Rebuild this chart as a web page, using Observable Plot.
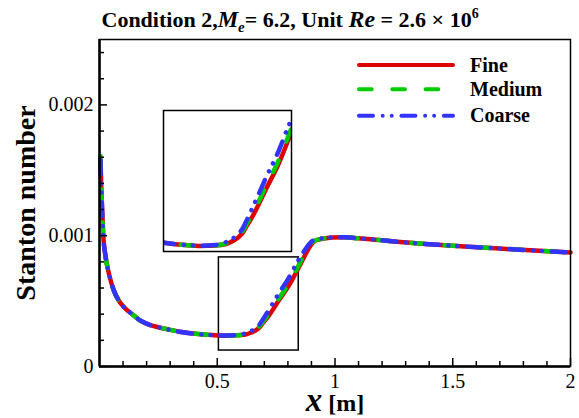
<!DOCTYPE html>
<html><head><meta charset="utf-8">
<script src="https://cdn.jsdelivr.net/npm/d3@7"></script>
<script src="https://cdn.jsdelivr.net/npm/@observablehq/plot@0.6"></script>
<style>
body{margin:0;background:#fff;}
#wrap{position:relative;width:579px;height:418px;overflow:hidden;}
svg text{font-family:"Liberation Serif","Times New Roman",Times,serif;}
</style></head><body><div id="wrap"></div>
<script>
// ---- data ----
const xPos = [0.004, 0.007, 0.011, 0.016, 0.025, 0.04, 0.061, 0.08, 0.103, 0.139, 0.174, 0.21, 0.25, 0.30, 0.34, 0.408, 0.478, 0.53, 0.58, 0.62, 0.645, 0.662, 0.68, 0.691, 0.719, 0.761, 0.804, 0.839, 0.868, 0.896, 0.915, 0.931, 0.96, 0.988, 1.045, 1.1, 1.2, 1.264, 1.4, 1.547, 1.7, 1.83, 2.0];
const stFine = [0.00160, 0.00140, 0.00121, 0.00100, 0.00085, 0.00071, 0.00058, 0.00051, 0.000455, 0.00040, 0.00035, 0.00032, 0.000300, 0.000280, 0.000266, 0.000250, 0.000240, 0.000236, 0.000238, 0.000245, 0.000260, 0.000275, 0.000300, 0.000326, 0.000389, 0.000504, 0.000618, 0.000733, 0.000834, 0.000924, 0.000960, 0.000970, 0.000980, 0.000987, 0.000988, 0.000980, 0.000965, 0.000954, 0.000935, 0.000918, 0.000902, 0.000888, 0.000872];
const stMedium = [0.00161, 0.00140, 0.00121, 0.00100, 0.00085, 0.00071, 0.00058, 0.00051, 0.000455, 0.00040, 0.00035, 0.00032, 0.000300, 0.000280, 0.000266, 0.000250, 0.000240, 0.000236, 0.000238, 0.000248, 0.000264, 0.000281, 0.000309, 0.000336, 0.000402, 0.000518, 0.000634, 0.000750, 0.000850, 0.000933, 0.000963, 0.000972, 0.000981, 0.000987, 0.000988, 0.000980, 0.000965, 0.000954, 0.000935, 0.000918, 0.000902, 0.000888, 0.000872];
const stCoarse = [0.00158, 0.00139, 0.00120, 0.00100, 0.00085, 0.00071, 0.00058, 0.00051, 0.000455, 0.00040, 0.00035, 0.00032, 0.000300, 0.000280, 0.000266, 0.000250, 0.000240, 0.000237, 0.000240, 0.000254, 0.000272, 0.000291, 0.000322, 0.000352, 0.000432, 0.000558, 0.000678, 0.000796, 0.000880, 0.000948, 0.000972, 0.000977, 0.000982, 0.000987, 0.000988, 0.000980, 0.000965, 0.000954, 0.000935, 0.000918, 0.000902, 0.000888, 0.000872];
const seriesNames = ["Fine", "Medium", "Coarse"];
const xTicksMajor = [0.5, 1, 1.5, 2];
const xTicksMinor = [0.1, 0.2, 0.3, 0.4, 0.6, 0.7, 0.8, 0.9, 1.1, 1.2, 1.3, 1.4, 1.6, 1.7, 1.8, 1.9];
const yTicksMajor = [0, 0.001, 0.002];
const yTicksMinor = [0.0002, 0.0004, 0.0006, 0.0008, 0.0012, 0.0014, 0.0016, 0.0018, 0.0022, 0.0024];
const zoomBox = [{x1: 0.507, x2: 0.846, y1: 0.000122, y2: 0.000834}];
const insetDomainX = [0.40, 0.85];
const insetDomainY = [0.00021, 0.00087];

// ---- styles / layout ----
const seriesColors = ["#dd0000", "#00cc00", "#3333ff"];
const seriesDash = [null, "12.7,20.6", "14,9.7,0.01,9,0.01,9.7"];
const insetPlace = {x1: 0.273, x2: 0.818, y1: 0.000873, y2: 0.001954};
const FONT = '"Liberation Serif","Times New Roman",Times,serif';
const W = 579, H = 418, mT = 39, mL = 99, mR = 9, mB = 52;
const plotH = H - mT - mB;
const plotW = W - mL - mR;

const seriesVals = [stFine, stMedium, stCoarse];
const rows = seriesNames.flatMap((name, i) => xPos.map((x, j) => ({x, st: seriesVals[i][j], series: name})));

function curveMarks(clip, sw) {
  return seriesNames.map((name, i) => Plot.line(rows.filter(d => d.series === name), {
    x: "x", y: "st", stroke: seriesColors[i], strokeWidth: sw,
    strokeDasharray: seriesDash[i] || undefined, strokeLinecap: "round", strokeLinejoin: "round",
    curve: "monotone-x", clip
  }));
}

const main = Plot.plot({
  width: W, height: H, marginTop: mT, marginLeft: mL, marginRight: mR, marginBottom: mB,
  x: {domain: [0, 2]},
  y: {domain: [0, 0.0025]},
  style: {fontFamily: FONT, fontSize: "20px", background: "transparent", color: "black"},
  marks: [
    Plot.rect(zoomBox, {x1: "x1", x2: "x2", y1: "y1", y2: "y2", fill: "none", stroke: "black", strokeWidth: 1.5}),
    ...curveMarks(false, 4.5),
    Plot.frame({stroke: "black", strokeWidth: 1.5}),
    Plot.ruleX([0], {stroke: "black", strokeWidth: 2.5}),
    Plot.ruleY([0], {stroke: "black", strokeWidth: 2.5}),
    Plot.tickX(xTicksMajor, {x: d => d, insetTop: plotH - 8, stroke: "black", strokeWidth: 1.5}),
    Plot.tickX(xTicksMinor, {x: d => d, insetTop: plotH - 5, stroke: "black", strokeWidth: 1.5}),
    Plot.tickY(yTicksMajor, {y: d => d, insetRight: plotW - 8, stroke: "black", strokeWidth: 1.5}),
    Plot.tickY(yTicksMinor, {y: d => d, insetRight: plotW - 5, stroke: "black", strokeWidth: 1.5}),
    Plot.axisX({ticks: xTicksMajor, tickSize: 0, tickPadding: 7, tickFormat: d => String(d), label: null, fontSize: 20}),
    Plot.axisY({ticks: yTicksMajor, tickSize: 0, tickPadding: 6, tickFormat: d => String(d), label: null, fontSize: 20}),
    Plot.text(["Stanton number"], {text: d => d, frameAnchor: "left", textAnchor: "middle", lineAnchor: "middle", rotate: -90, dx: -73, fontSize: 28, fontWeight: "bold"})
  ]
});

const wrap = document.getElementById("wrap");
main.style.position = "absolute";
main.style.left = "0px";
main.style.top = "0px";
wrap.appendChild(main);

const sx = main.scale("x"), sy = main.scale("y");
const svg = d3.select(main);

// Title
const title = svg.append("text").attr("x", 101.5).attr("y", 26.7).attr("text-anchor", "start")
  .attr("font-weight", "bold").attr("font-size", 22).attr("fill", "black");
title.append("tspan").text("Condition 2,");
title.append("tspan").attr("font-style", "italic").attr("font-size", 23).text("M");
title.append("tspan").attr("font-style", "italic").attr("font-size", 15).attr("dy", 5).text("e");
title.append("tspan").attr("dy", -5).text("= 6.2, Unit ");
title.append("tspan").attr("font-style", "italic").attr("font-size", 24).text("Re");
title.append("tspan").text(" = 2.6 \u00d7 10");
title.append("tspan").attr("font-size", 14).attr("dy", -9).text("6");

// X label
const xl = svg.append("text").attr("x", 335).attr("y", 411).attr("text-anchor", "middle")
  .attr("font-weight", "bold").attr("fill", "black");
xl.append("tspan").attr("font-style", "italic").attr("font-size", 33).text("x");
xl.append("tspan").attr("font-size", 24).text(" [m]");

// Legend
const legRows = [65, 89.3, 115.7];
seriesNames.forEach((name, i) => {
  svg.append("line").attr("x1", 359).attr("x2", 453).attr("y1", legRows[i]).attr("y2", legRows[i])
    .attr("stroke", seriesColors[i]).attr("stroke-width", 4).attr("stroke-linecap", "round")
    .attr("stroke-dasharray", seriesDash[i]);
  svg.append("text").attr("x", 470).attr("y", legRows[i] + 6.7).attr("text-anchor", "start")
    .attr("font-weight", "bold").attr("font-size", 20).attr("fill", "black").text(name);
});

// Inset
const ix1 = sx.apply(insetPlace.x1), ix2 = sx.apply(insetPlace.x2);
const iy1 = sy.apply(insetPlace.y2), iy2 = sy.apply(insetPlace.y1);
const inset = Plot.plot({
  width: Math.round(ix2 - ix1), height: Math.round(iy2 - iy1), margin: 0,
  x: {domain: insetDomainX, axis: null},
  y: {domain: insetDomainY, axis: null},
  style: {background: "transparent", overflow: "visible"},
  marks: [
    ...curveMarks("frame", 4.5),
    Plot.frame({stroke: "black", strokeWidth: 1.5})
  ]
});
inset.style.position = "absolute";
inset.style.left = ix1 + "px";
inset.style.top = iy1 + "px";
wrap.appendChild(inset);
</script></body></html>
